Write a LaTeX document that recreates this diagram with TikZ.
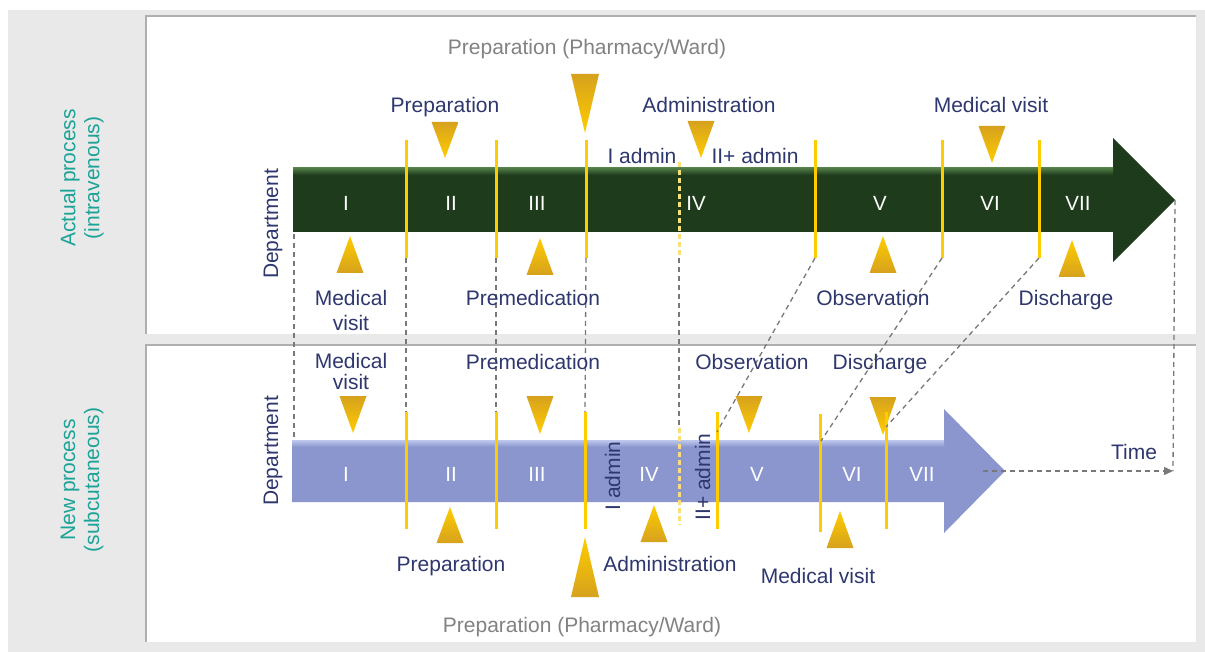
\documentclass[tikz,border=0pt]{standalone}
\usepackage{fontspec}
\setmainfont{Liberation Sans}
\usetikzlibrary{positioning}
\usetikzlibrary{arrows.meta}
\definecolor{navytext}{RGB}{46,55,110}
\definecolor{tealtext}{RGB}{28,163,152}
\definecolor{graytext}{RGB}{130,130,130}
\definecolor{ivgreen}{RGB}{30,60,28}
\definecolor{ivgreenlight}{RGB}{82,124,70}
\definecolor{sclavender}{RGB}{138,150,205}
\definecolor{sclavenderlight}{RGB}{190,200,238}
\definecolor{gold}{RGB}{255,204,0}
\definecolor{golddark}{RGB}{214,162,30}
\definecolor{palegold}{RGB}{250,222,120}
\definecolor{guidegray}{RGB}{120,120,120}
\definecolor{panelgray}{RGB}{233,233,233}
\definecolor{bordergray}{RGB}{175,175,175}
\tikzset{
    every node/.style={
        inner sep=0pt,
        align=center,
        text=navytext,
        font=\fontsize{21}{24}\selectfont},
    lbl/.style={anchor=base},
    phase/.style={
        text=white,
        font=\fontsize{20.5}{24}\selectfont},
    side/.style={
        rotate=90,
        text=tealtext},
    vert/.style={
        rotate=90,
        anchor=base},
    gold line/.style={
        draw=gold,
        line width=3pt},
    gold dash/.style={
        draw=palegold,
        line width=3pt,
        dash pattern=on 5pt off 3pt},
    guide/.style={
        draw=guidegray,
        line width=1.3pt,
        dash pattern=on 5pt off 4pt},
    tri down/.style={
        top color=golddark,
        bottom color=gold},
    tri up/.style={
        top color=gold,
        bottom color=golddark}}

\begin{document}
\begin{tikzpicture}[x=1pt,y=-1pt]
    \useasboundingbox (0,0) rectangle (1205,652);
    \fill[panelgray] (8,10) rectangle (1205,652);
    \fill[white] (146,16) rectangle (1196,334);
    \fill[white] (146,345) rectangle (1196,642);
    \draw[bordergray,line width=1.5pt] (146,334) |- (1196,16);
    \draw[bordergray,line width=1.5pt] (146,642) |- (1196,345);
    \draw[black!10,line width=1pt] (1196,16) -- (1196,334);
    \draw[black!10,line width=1pt] (1196,345) -- (1196,642);

    \node[side] (actual) at (82,178) {Actual process\\(intravenous)};
    \node[side] (new) at (82,480) {New process\\(subcutaneous)};

    % the two process arrows
    \fill[ivgreen] (293,168) -- (1113,168) -- (1113,138) -- (1175,200)
        -- (1113,262) -- (1113,232) -- (293,232) -- cycle;
    \shade[top color=ivgreenlight,bottom color=ivgreen] (293,168) rectangle (1113,175);
    \fill[sclavender] (292,440) -- (944,440) -- (944,409) -- (1005,471)
        -- (944,533) -- (944,502) -- (292,502) -- cycle;
    \shade[top color=sclavenderlight,bottom color=sclavender] (292,440) rectangle (944,447);

    \coordinate (gtip) at (1175,200);
    \coordinate (tstart) at (983,471);
    \coordinate (tcorner) at (1173,471);

    \foreach \x/\t in {346/I,451/II,537/III,696/IV,880/V,990/VI,1078/VII}
        \node[phase] (iv\t) at (\x,203) {\t};
    \foreach \x/\t in {346/I,451/II,537/III,649/IV,757/V,852/VI,922/VII}
        \node[phase] (sc\t) at (\x,474) {\t};

    % triangles
    \foreach \cx/\ya/\yb/\w in {445/122/158/13.5,585/74/133/14,701/121/158/13.5,
            992/126/163/13.5,353/396/433/13.5,540/396/434/13.5,749/396/433/13.5,
            883/397/435/13.5}
        \shade[tri down] (\cx-\w,\ya) -- (\cx+\w,\ya) -- (\cx,\yb) -- cycle;
    \foreach \cx/\ya/\yb/\w in {350/273/236/13.5,540/275/238/13.5,883/273/236/13.5,
            1072/277/240/13.5,450/543/507/13.5,654/542/505/13.5,840/548/511/13.5,
            585/597/537/14}
        \shade[tri up] (\cx-\w,\ya) -- (\cx+\w,\ya) -- (\cx,\yb) -- cycle;

    % step borders
    \foreach \x [count=\i] in {406,496,586,815,942,1039} {
        \coordinate (ua\i) at (\x,140);
        \coordinate (ub\i) at (\x,258);
        \draw[gold line] (ua\i) -- (ub\i);
    }
    \foreach \x/\ya/\yb [count=\i] in {406/412/529,496/412/529,585/412/529,
            717/412/529,820/414/532,886/412/529} {
        \coordinate (la\i) at (\x,\ya);
        \coordinate (lb\i) at (\x,\yb);
        \draw[gold line] (la\i) -- (lb\i);
    }
    \coordinate (ada) at (679,162);
    \coordinate (adb) at (679,258);
    \coordinate (adc) at (679,428);
    \coordinate (add) at (679,525);
    \draw[gold dash] (ada) -- (adb);
    \draw[gold dash] (adc) -- (add);

    % links between the two processes
    \coordinate (depa) at (294,234);
    \coordinate (depb) at (294,440);
    \coordinate (m4) at (717,432);
    \coordinate (m5) at (821,441);
    \coordinate (m6) at (886,427);
    \draw[guide] (depa) -- (depb);
    \foreach \i in {1,2,3}
        \draw[guide] (ub\i) -- (la\i);
    \draw[guide] (adb) -- (adc);
    \draw[guide] (ub4) -- (m4);
    \draw[guide] (ub5) -- (m5);
    \draw[guide] (ub6) -- (m6);
    \draw[guide] (gtip) -- (tcorner);
    \draw[guide,-{Triangle[length=9pt,width=8pt]}] (tstart) -- (tcorner);

    % labels, actual process
    \node[lbl,text=graytext] (ppwa) at (587,55) {Preparation (Pharmacy/Ward)};
    \node[lbl] (prepa) at (445,113) {Preparation};
    \node[lbl] (admina) at (709,113) {Administration};
    \node[lbl] (firsta) at (642,164) {I admin};
    \node[lbl] (nexta) at (755,164) {II+ admin};
    \node[lbl] (visitb) at (991,113) {Medical visit};
    \node[anchor=north,font=\fontsize{21}{25}\selectfont] (visita) at (351,290.5) {Medical\\visit};
    \node[lbl] (premeda) at (533,306) {Premedication};
    \node[lbl] (obsa) at (873,306) {Observation};
    \node[lbl] (disa) at (1066,306) {Discharge};
    \node[vert] (depta) at (278,224) {Department};

    % labels, new process
    \node[anchor=north,font=\fontsize{21}{21}\selectfont] (visitc) at (351,353.5) {Medical\\visit};
    \node[lbl] (premedb) at (533,369) {Premedication};
    \node[lbl] (obsb) at (752,369) {Observation};
    \node[lbl] (disb) at (880,369) {Discharge};
    \node[lbl] (prepb) at (451,571) {Preparation};
    \node[lbl] (adminb) at (670,571) {Administration};
    \node[lbl] (visitd) at (818,583) {Medical visit};
    \node[lbl,text=graytext] (ppwb) at (582,632) {Preparation (Pharmacy/Ward)};
    \node[vert] (firstb) at (620,476) {I admin};
    \node[vert] (nextb) at (710,477) {II+ admin};
    \node[vert] (deptb) at (278,451) {Department};
    \node[lbl] (time) at (1134,459) {Time};
\end{tikzpicture}
\end{document}
